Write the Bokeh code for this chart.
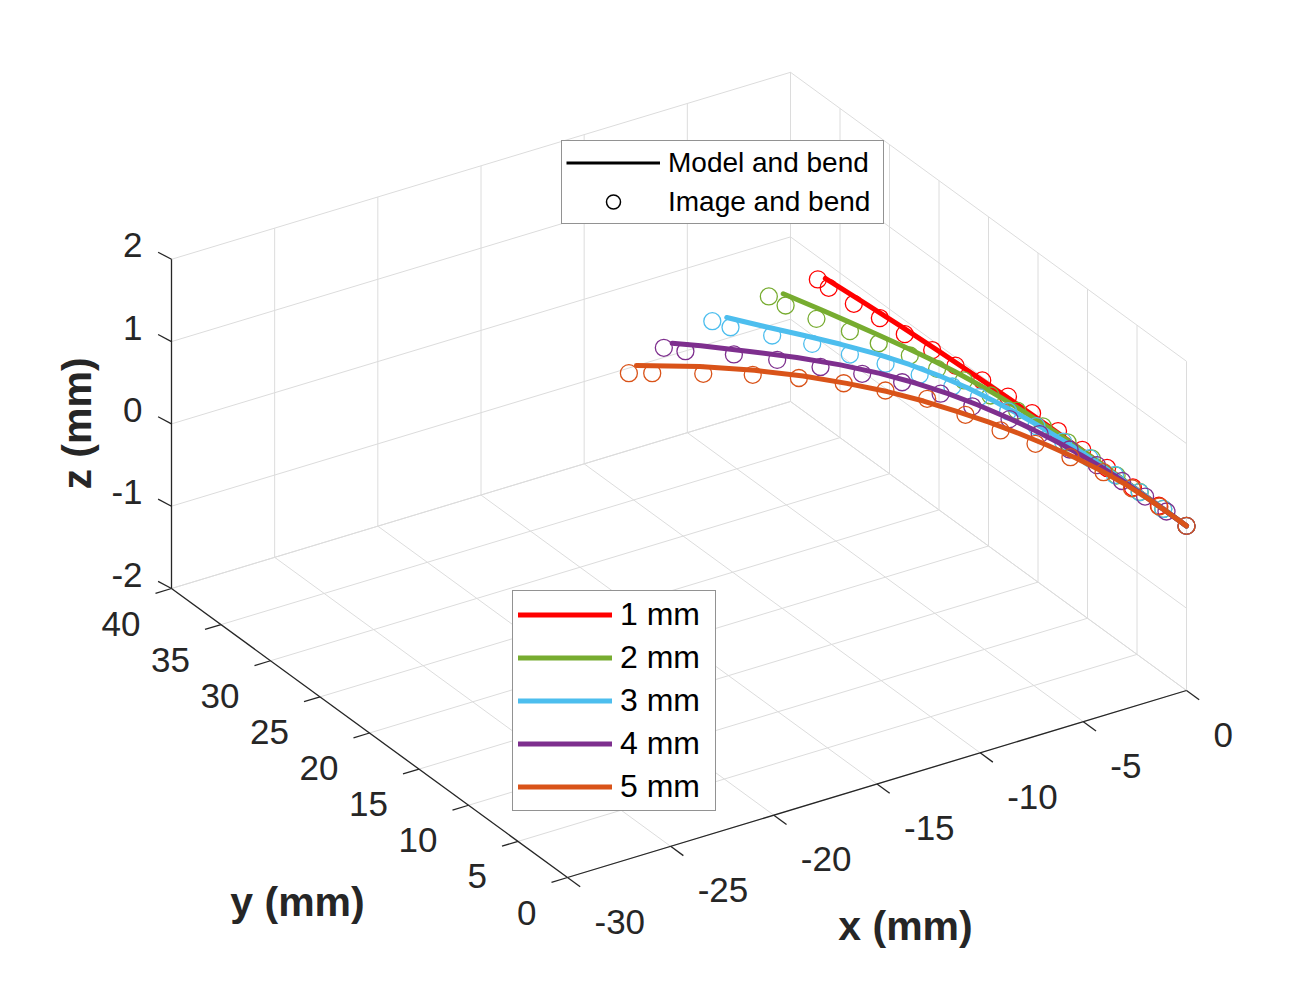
import numpy as np
from bokeh.plotting import figure
from bokeh.models import Range1d, Legend, LegendItem
from bokeh.core.properties import value
from bokeh.embed import file_html
from bokeh.resources import INLINE

# ---------------- data (mm) ----------------
x_ticks = [-30, -25, -20, -15, -10, -5, 0]
y_ticks = [0, 5, 10, 15, 20, 25, 30, 35, 40]
z_ticks = [-2, -1, 0, 1, 2]
x_tick_labels = ["-30", "-25", "-20", "-15", "-10", "-5", "0"]
y_tick_labels = ["0", "5", "10", "15", "20", "25", "30", "35", "40"]
z_tick_labels = ["-2", "-1", "0", "1", "2"]

series_labels = ["1 mm", "2 mm", "3 mm", "4 mm", "5 mm"]
series_colors = ["#FF0000", "#77AC30", "#4DBEEE", "#7E2F8E", "#D95319"]

# all curves lie in the z = 0 plane
plane_z = 0.0

# model curves ("Model and bend")
model_x_1 = [-0.76, -0.58, -0.42, -0.29, -0.18, -0.10, -0.05, -0.02, -0.01, 0.0, 0.0]
model_y_1 = [34.90, 31.50, 28.00, 24.50, 21.00, 17.50, 14.00, 10.50, 7.00, 3.50, 0.0]
model_x_2 = [-2.92, -2.38, -2.00, -1.63, -1.28, -0.96, -0.70, -0.49, -0.33, -0.21, -0.12, -0.06, -0.03, -0.01, 0.0, 0.0, 0.0]
model_y_2 = [34.65, 32.0, 30.0, 28.0, 26.0, 24.0, 22.0, 20.0, 18.0, 16.0, 14.0, 12.0, 10.0, 8.0, 6.0, 3.0, 0.0]
model_x_3 = [-5.97, -5.10, -4.18, -3.32, -2.55, -1.92, -1.42, -1.03, -0.74, -0.52, -0.35, -0.22, -0.13, -0.06, -0.02, 0.0, 0.0]
model_y_3 = [34.0, 32.0, 30.0, 28.0, 26.0, 24.0, 22.0, 20.0, 18.0, 16.0, 14.0, 12.0, 10.0, 8.0, 6.0, 3.0, 0.0]
model_x_4 = [-9.05, -8.18, -6.78, -5.45, -4.30, -3.35, -2.58, -1.96, -1.47, -1.07, -0.74, -0.48, -0.28, -0.14, -0.06, -0.02, 0.0]
model_y_4 = [33.09, 32.0, 30.0, 28.0, 26.0, 24.0, 22.0, 20.0, 18.0, 16.0, 14.0, 12.0, 10.0, 8.0, 6.0, 3.0, 0.0]
model_x_5 = [-11.32, -9.20, -7.50, -6.10, -4.95, -3.95, -3.15, -2.50, -1.90, -1.40, -0.98, -0.62, -0.34, -0.15, -0.05, -0.01, 0.0]
model_y_5 = [31.97, 30.0, 28.0, 26.0, 24.0, 22.0, 20.0, 18.0, 16.0, 14.0, 12.0, 10.0, 8.0, 6.0, 4.0, 2.0, 0.0]

# image points ("Image and bend")
image_x_1 = [-1.06, -1.08, -0.97, -0.75, -0.65, -0.46, -0.39, -0.17, -0.05, 0.0, 0.05, 0.0, 0.0, -0.03, 0.0, 0.0]
image_y_1 = [35.03, 33.89, 31.58, 29.41, 27.10, 24.73, 22.52, 20.28, 17.93, 15.60, 13.08, 10.53, 8.02, 5.35, 2.79, 0.0]
image_x_2 = [-3.54, -3.39, -2.96, -2.39, -1.97, -1.48, -1.17, -0.80, -0.59, -0.39, -0.25, -0.15, -0.08, -0.03, -0.01, 0.0, 0.0]
image_y_2 = [34.81, 33.43, 31.21, 29.02, 26.98, 24.86, 22.75, 20.82, 18.56, 16.30, 14.00, 11.70, 9.40, 7.00, 4.70, 2.35, 0.0]
image_x_3 = [-6.64, -6.30, -5.26, -4.28, -3.49, -2.70, -2.05, -1.48, -1.07, -0.73, -0.46, -0.27, -0.14, -0.06, -0.02, 0.0, 0.0]
image_y_3 = [34.06, 32.93, 30.89, 28.89, 26.73, 24.77, 22.68, 20.57, 18.74, 16.50, 14.20, 11.90, 9.50, 7.10, 4.70, 2.35, 0.0]
image_x_4 = [-9.55, -8.97, -7.46, -6.23, -5.08, -3.97, -3.00, -2.22, -1.73, -1.05, -0.72, -0.42, -0.22, -0.10, -0.04, -0.01, 0.0]
image_y_4 = [32.89, 31.92, 30.17, 28.36, 26.38, 24.48, 22.47, 20.21, 18.04, 15.69, 13.33, 10.94, 8.60, 6.30, 4.10, 2.00, 0.0]
image_x_5 = [-11.94, -11.14, -9.42, -7.77, -6.34, -5.05, -3.96, -2.92, -2.36, -1.89, -1.32, -0.75, -0.32, -0.10, -0.02, 0.0]
image_y_5 = [31.44, 30.75, 29.18, 27.62, 25.94, 24.10, 22.16, 20.11, 17.41, 14.84, 12.50, 10.16, 7.71, 5.30, 2.70, 0.0]

model_x = [model_x_1, model_x_2, model_x_3, model_x_4, model_x_5]
model_y = [model_y_1, model_y_2, model_y_3, model_y_4, model_y_5]
image_x = [image_x_1, image_x_2, image_x_3, image_x_4, image_x_5]
image_y = [image_y_1, image_y_2, image_y_3, image_y_4, image_y_5]

# ---------------- view / projection ----------------
W, H = 1296, 969
XMIN, XMAX = -30, 0
YMIN, YMAX = 0, 40
ZMIN, ZMAX = -2, 2
# page pixel position of the corner (XMIN, YMIN, ZMIN) and pixel step per mm
ORIGIN = (567.0, 877.0)
EX = (619.0 / 30.0, -187.0 / 30.0)
EY = (-396.0 / 40.0, -289.0 / 40.0)
EZ = (0.0, -329.2 / 4.0)


def page(x, y, z):
    x = np.asarray(x, dtype=float)
    y = np.asarray(y, dtype=float)
    z = np.asarray(z, dtype=float)
    px = ORIGIN[0] + (x - XMIN) * EX[0] + (y - YMIN) * EY[0] + (z - ZMIN) * EZ[0]
    py = ORIGIN[1] + (x - XMIN) * EX[1] + (y - YMIN) * EY[1] + (z - ZMIN) * EZ[1]
    return px, py


def to_fig(px, py):
    return np.asarray(px, dtype=float), H - np.asarray(py, dtype=float)


def proj(x, y, z):
    return to_fig(*page(x, y, z))


p = figure(width=W, height=H, x_range=Range1d(0, W), y_range=Range1d(0, H),
           output_backend="svg", toolbar_location=None,
           x_axis_type=None, y_axis_type=None, min_border=0)
p.outline_line_color = None
p.background_fill_color = "white"
p.border_fill_color = "white"

GRID = "#DCDCDC"
AX = "#262626"
FONT = "Liberation Sans"

# grid lines on back planes
gxs, gys = [], []


def seg(a, b, xs_list, ys_list):
    sx, sy = proj([a[0], b[0]], [a[1], b[1]], [a[2], b[2]])
    xs_list.append(list(sx))
    ys_list.append(list(sy))


for xv in x_ticks:
    seg((xv, YMIN, ZMIN), (xv, YMAX, ZMIN), gxs, gys)
    seg((xv, YMAX, ZMIN), (xv, YMAX, ZMAX), gxs, gys)
for yv in y_ticks:
    seg((XMIN, yv, ZMIN), (XMAX, yv, ZMIN), gxs, gys)
    seg((XMAX, yv, ZMIN), (XMAX, yv, ZMAX), gxs, gys)
for zv in z_ticks:
    seg((XMIN, YMAX, zv), (XMAX, YMAX, zv), gxs, gys)
    seg((XMAX, YMIN, zv), (XMAX, YMAX, zv), gxs, gys)
p.multi_line(gxs, gys, line_color=GRID, line_width=1)

# axis lines
axs, ays = [], []
seg((XMIN, YMAX, ZMIN), (XMIN, YMAX, ZMAX), axs, ays)   # z axis
seg((XMIN, YMIN, ZMIN), (XMIN, YMAX, ZMIN), axs, ays)   # y axis
seg((XMIN, YMIN, ZMIN), (XMAX, YMIN, ZMIN), axs, ays)   # x axis

# ticks (page-pixel directions)
TZ = (-13.4, -7.1)
TY = (-16.0, 4.8)
TX = (12.7, 9.3)
for zv in z_ticks:
    px, py = page(XMIN, YMAX, zv)
    fx, fy = to_fig([px, px + TZ[0]], [py, py + TZ[1]])
    axs.append(list(fx)); ays.append(list(fy))
for yv in y_ticks:
    px, py = page(XMIN, yv, ZMIN)
    fx, fy = to_fig([px, px + TY[0]], [py, py + TY[1]])
    axs.append(list(fx)); ays.append(list(fy))
for xv in x_ticks:
    px, py = page(xv, YMIN, ZMIN)
    fx, fy = to_fig([px, px + TX[0]], [py, py + TX[1]])
    axs.append(list(fx)); ays.append(list(fy))
p.multi_line(axs, ays, line_color=AX, line_width=1.3)

# tick labels
TICK_FS = "35px"
zpx, zpy = page([XMIN] * len(z_ticks), [YMAX] * len(z_ticks), z_ticks)
fx, fy = to_fig(zpx - 29, zpy - 14)
p.text(fx, fy, text=z_tick_labels, text_align="right", text_baseline="middle",
       text_font=value(FONT), text_font_size=TICK_FS, text_color=AX)
ypx, ypy = page([XMIN] * len(y_ticks), y_ticks, [ZMIN] * len(y_ticks))
fx, fy = to_fig(ypx - 31, ypy + 35)
p.text(fx, fy, text=y_tick_labels, text_align="right", text_baseline="middle",
       text_font=value(FONT), text_font_size=TICK_FS, text_color=AX)
xpx, xpy = page(x_ticks, [YMIN] * len(x_ticks), [ZMIN] * len(x_ticks))
fx, fy = to_fig(xpx + 27, xpy + 44)
p.text(fx, fy, text=x_tick_labels, text_align="left", text_baseline="middle",
       text_font=value(FONT), text_font_size=TICK_FS, text_color=AX)

# axis titles
LAB_FS = "41px"
fx, fy = to_fig([905], [925])
p.text(fx, fy, text=["x (mm)"], text_align="center", text_baseline="middle",
       text_font=value(FONT), text_font_size=LAB_FS, text_font_style="bold", text_color=AX)
fx, fy = to_fig([297], [901])
p.text(fx, fy, text=["y (mm)"], text_align="center", text_baseline="middle",
       text_font=value(FONT), text_font_size=LAB_FS, text_font_style="bold", text_color=AX)
fx, fy = to_fig([76], [423])
p.text(fx, fy, text=["z (mm)"], text_align="center", text_baseline="middle", angle=np.pi / 2,
       text_font=value(FONT), text_font_size=LAB_FS, text_font_style="bold", text_color=AX)

# series
line_renderers = []
for mx, my, ix, iy, col in zip(model_x, model_y, image_x, image_y, series_colors):
    sx, sy = proj(mx, my, np.full(len(mx), plane_z))
    r = p.line(sx, sy, line_color=col, line_width=5, line_join="round", line_cap="round")
    line_renderers.append(r)
    cx, cy = proj(ix, iy, np.full(len(ix), plane_z))
    p.scatter(cx, cy, marker="circle", size=17, fill_color=None, line_color=col, line_width=1.3)

# legend proxies (one undefined point each, nothing drawn on the plot)
r_model = p.line(x=[np.nan], y=[np.nan], line_color="black", line_width=2.8)
r_image = p.scatter(x=[np.nan], y=[np.nan], marker="circle", size=14, fill_color=None,
                    line_color="black", line_width=1.5)

leg1 = Legend(items=[LegendItem(label="Model and bend", renderers=[r_model], index=0),
                     LegendItem(label="Image and bend", renderers=[r_image], index=0)],
              location=(561, H - 224), orientation="vertical", margin=0, padding=4,
              spacing=4, glyph_width=94, glyph_height=35, label_height=35,
              label_width=211, label_standoff=8,
              label_text_font=FONT, label_text_font_size="28px", label_text_color="black",
              border_line_color="#262626", border_line_width=1,
              background_fill_color="white", background_fill_alpha=1.0)
p.add_layout(leg1, "center")

leg2 = Legend(items=[LegendItem(label=lab, renderers=[r])
                     for lab, r in zip(series_labels, line_renderers)],
              location=(512, H - 811), orientation="vertical", margin=0, padding=5,
              spacing=6, glyph_width=94, glyph_height=37, label_height=37,
              label_width=90, label_standoff=8,
              label_text_font=FONT, label_text_font_size="32px", label_text_color="black",
              border_line_color="#262626", border_line_width=1,
              background_fill_color="white", background_fill_alpha=1.0)
p.add_layout(leg2, "center")

open("out.html", "w").write(file_html(p, INLINE))
